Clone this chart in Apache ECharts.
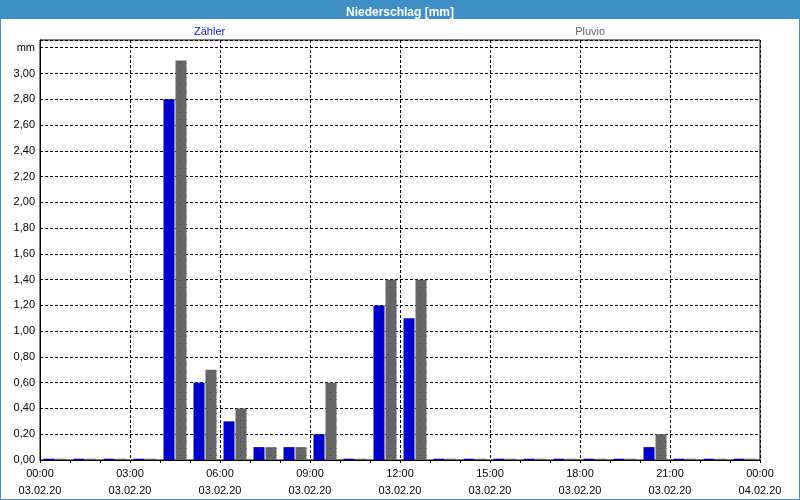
<!DOCTYPE html>
<html>
<head>
<meta charset="utf-8">
<script src="https://cdn.jsdelivr.net/npm/echarts@6/dist/echarts.min.js"></script>
<style>html,body{margin:0;padding:0;background:#fff;}#c{width:800px;height:500px;}</style>
</head>
<body>
<div id="c"></div>
<script>
// hourly categories (start hour of each interval)
var hours = [0,1,2,3,4,5,6,7,8,9,10,11,12,13,14,15,16,17,18,19,20,21,22,23];
var zaehler = [0.01,0.01,0.01,0.01,2.80,0.60,0.30,0.10,0.10,0.20,0.01,1.20,1.10,0.01,0.01,0.01,0.01,0.01,0.01,0.01,0.10,0.01,0.01,0.01];
var pluvio  = [0.01,0.01,0.01,0.01,3.10,0.70,0.40,0.10,0.10,0.60,0.01,1.40,1.40,0.01,0.01,0.01,0.01,0.01,0.01,0.01,0.20,0.01,0.01,0.01];
var xTickLabels = ['00:00\n03.02.20','03:00\n03.02.20','06:00\n03.02.20','09:00\n03.02.20','12:00\n03.02.20','15:00\n03.02.20','18:00\n03.02.20','21:00\n03.02.20','00:00\n04.02.20'];
var seriesNames = ['Zähler','Pluvio'];
var unitLabel = 'mm';

var FONT = 'Liberation Sans';
var chart = echarts.init(document.getElementById('c'), null, {renderer:'canvas'});
var option = {
  backgroundColor: '#ffffff',
  animation: false,
  textStyle: {fontFamily: FONT},
  title: {
    text: 'Niederschlag [mm]',
    left: 'center', top: 2,
    textStyle: {color:'#ffffff', fontWeight:'bold', fontSize:12, fontFamily: FONT}
  },
  graphic: [
    {type:'rect', z:-10, shape:{x:0,y:0,width:800,height:19}, style:{fill:'#3d8fc6'}},
    {type:'rect', z:-10, shape:{x:0.5,y:0.5,width:799,height:499}, style:{fill:null, stroke:'#3d8fc6', lineWidth:1}}
  ],
  legend: {
    left: 189, top: 26, padding: 0,
    itemWidth: 0, itemHeight: 12, itemGap: 345,
    selectedMode: false,
    data: [
      {name: seriesNames[0], textStyle:{color:'#1414cc'}},
      {name: seriesNames[1], textStyle:{color:'#5f5f7a'}}
    ],
    textStyle: {fontSize:11, fontFamily: FONT}
  },
  grid: {
    left: 40, right: 40, top: 40, bottom: 40,
    show: true, borderColor:'#000', borderWidth:1, backgroundColor:'#ffffff'
  },
  xAxis: {
    type: 'value', min: 0, max: 24, interval: 3,
    axisLine: {show:true, lineStyle:{color:'#000', width:1}},
    axisTick: {show:true, length:3, lineStyle:{color:'#000'}},
    minorTick: {show:true, splitNumber:3, length:3, lineStyle:{color:'#000'}},
    splitLine: {show:true, lineStyle:{color:'#000', type:[3,2], width:1}},
    axisLabel: {
      color:'#000', fontSize:11, fontFamily: FONT, margin:5, lineHeight:17,
      formatter: function(v){ return xTickLabels[Math.round(v/3)] || ''; }
    }
  },
  yAxis: {
    type: 'value', min: 0, max: 3.26, interval: 0.2,
    axisLine: {show:true, lineStyle:{color:'#000'}},
    axisTick: {show:false},
    splitLine: {show:true, lineStyle:{color:'#000', type:[3,2], width:1}},
    axisLabel: {
      color:'#000', fontSize:11, fontFamily: FONT, margin:5,
      formatter: function(v){
        if (v > 3.21) return '';
        if (Math.abs(v-3.2) < 1e-6) return unitLabel;
        return v.toFixed(2).replace('.', ',');
      }
    }
  },
  series: [
    {
      name: seriesNames[0], type:'bar', barWidth:11, barGap:'9%',
      itemStyle:{color:'#0000c8'},
      data: hours.map(function(h,i){ return [h+0.5, zaehler[i]]; })
    },
    {
      name: seriesNames[1], type:'bar', barWidth:11, barGap:'9%',
      itemStyle:{color:'#666666', decal:{symbol:'rect', symbolSize:1, color:'#3a3a88', dashArrayX:[1,5], dashArrayY:[1,6], rotation:0}},
      data: hours.map(function(h,i){ return [h+0.5, pluvio[i]]; })
    }
  ]
};
chart.setOption(option);
</script>
</body>
</html>
